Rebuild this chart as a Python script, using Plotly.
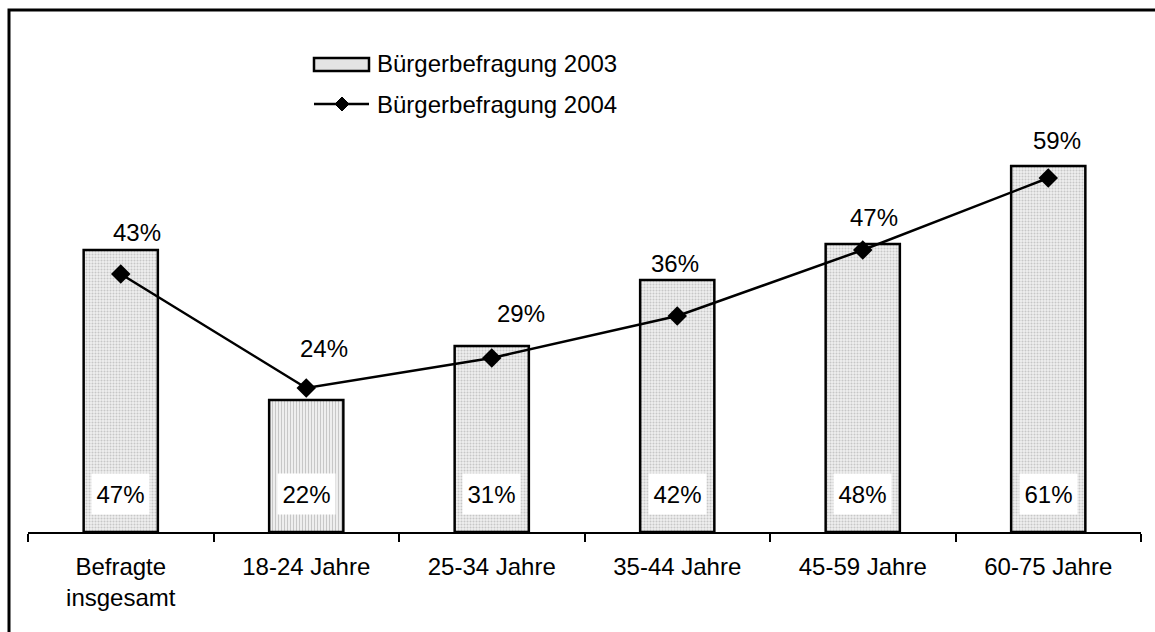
import plotly.graph_objects as go

categories = ["Befragte<br>insgesamt", "18-24 Jahre", "25-34 Jahre", "35-44 Jahre", "45-59 Jahre", "60-75 Jahre"]
values_2003 = [47, 22, 31, 42, 48, 61]
values_2004 = [43, 24, 29, 36, 47, 59]
series_names = ["Bürgerbefragung 2003", "Bürgerbefragung 2004"]

# label offsets (px) for the 2004 labels
label_dx = [16, 18, 29, -2, 11, 9]
label_dy = [42, 40, 45, 53, 33, 38]
pattern_shapes = [".", "|", ".", ".", ".", "."]

W, H = 1155, 632
ML, MR, MT, MB = 28, 14, 112, 100
PW, PH = W - ML - MR, H - MT - MB
FONT = "Liberation Sans, Arial, sans-serif"
FS = 24


def px(x):
    return (x - ML) / PW


def py(y):
    return (H - MB - y) / PH


fig = go.Figure()
fig.add_trace(go.Bar(
    x=categories, y=values_2003, width=0.4, name=series_names[0], showlegend=False,
    marker=dict(color="white", line=dict(color="black", width=2.5),
                pattern=dict(shape=pattern_shapes, fgcolor="#a0a0a0", bgcolor="#eeeeee",
                             size=3, solidity=0.35)),
))
fig.add_trace(go.Scatter(
    x=categories, y=values_2004, mode="lines+markers", name=series_names[1], showlegend=False,
    line=dict(color="black", width=2.5),
    marker=dict(symbol="diamond", size=15, color="black"),
))

annotations = []
for c, v, dx, dy in zip(categories, values_2004, label_dx, label_dy):
    annotations.append(dict(x=c, y=v, xref="x", yref="y", text=f"{v}%", showarrow=False,
                            xshift=dx, yshift=dy, font=dict(size=FS, color="black", family=FONT)))
for c, v in zip(categories, values_2003):
    annotations.append(dict(x=c, y=0, xref="x", yref="y", text=f"{v}%", showarrow=False,
                            yshift=38, bgcolor="white", borderpad=4, width=49, height=32,
                            font=dict(size=FS, color="black", family=FONT)))

# legend (manual)
annotations.append(dict(x=px(375), y=py(64), xref="paper", yref="paper", text=series_names[0],
                        showarrow=False, xanchor="left", yanchor="middle",
                        font=dict(size=FS, color="black", family=FONT)))
annotations.append(dict(x=px(375), y=py(104), xref="paper", yref="paper", text=series_names[1],
                        showarrow=False, xanchor="left", yanchor="middle",
                        font=dict(size=FS, color="black", family=FONT)))

shapes = [
    # outer frame
    dict(type="rect", xref="paper", yref="paper", x0=px(9), x1=px(1170), y0=py(645), y1=py(10),
         line=dict(color="black", width=3), fillcolor="rgba(0,0,0,0)", layer="below"),
    # legend bar symbol
    dict(type="rect", xref="paper", yref="paper", x0=px(314), x1=px(369), y0=py(71), y1=py(58),
         line=dict(color="black", width=2.5), fillcolor="#e4e4e4"),
    # legend line symbol
    dict(type="line", xref="paper", yref="paper", x0=px(314), x1=px(369), y0=py(104), y1=py(104),
         line=dict(color="black", width=2.5)),
    dict(type="path", xref="paper", yref="paper",
         path=(f"M{px(342-7)},{py(104)} L{px(342)},{py(104-7)} "
               f"L{px(342+7)},{py(104)} L{px(342)},{py(104+7)} Z"),
         line=dict(color="black", width=1), fillcolor="black"),
]

fig.update_layout(
    width=W, height=H,
    margin=dict(l=ML, r=MR, t=MT, b=MB),
    paper_bgcolor="white", plot_bgcolor="white",
    font=dict(family=FONT, size=FS, color="black"),
    bargap=0.6,
    annotations=annotations,
    shapes=shapes,
    xaxis=dict(showline=True, linecolor="black", linewidth=2, ticks="outside", tickson="boundaries",
               ticklen=8, tickwidth=2, tickcolor="black", showgrid=False, zeroline=False,
               ticklabelstandoff=12,
               tickfont=dict(size=FS, family=FONT, color="black")),
    yaxis=dict(range=[0, 70], visible=False, showgrid=False, zeroline=False),
)

fig.write_html("out.html", config={"displayModeBar": False},
               post_script="document.body.style.margin='0';document.body.style.overflow='hidden';")
